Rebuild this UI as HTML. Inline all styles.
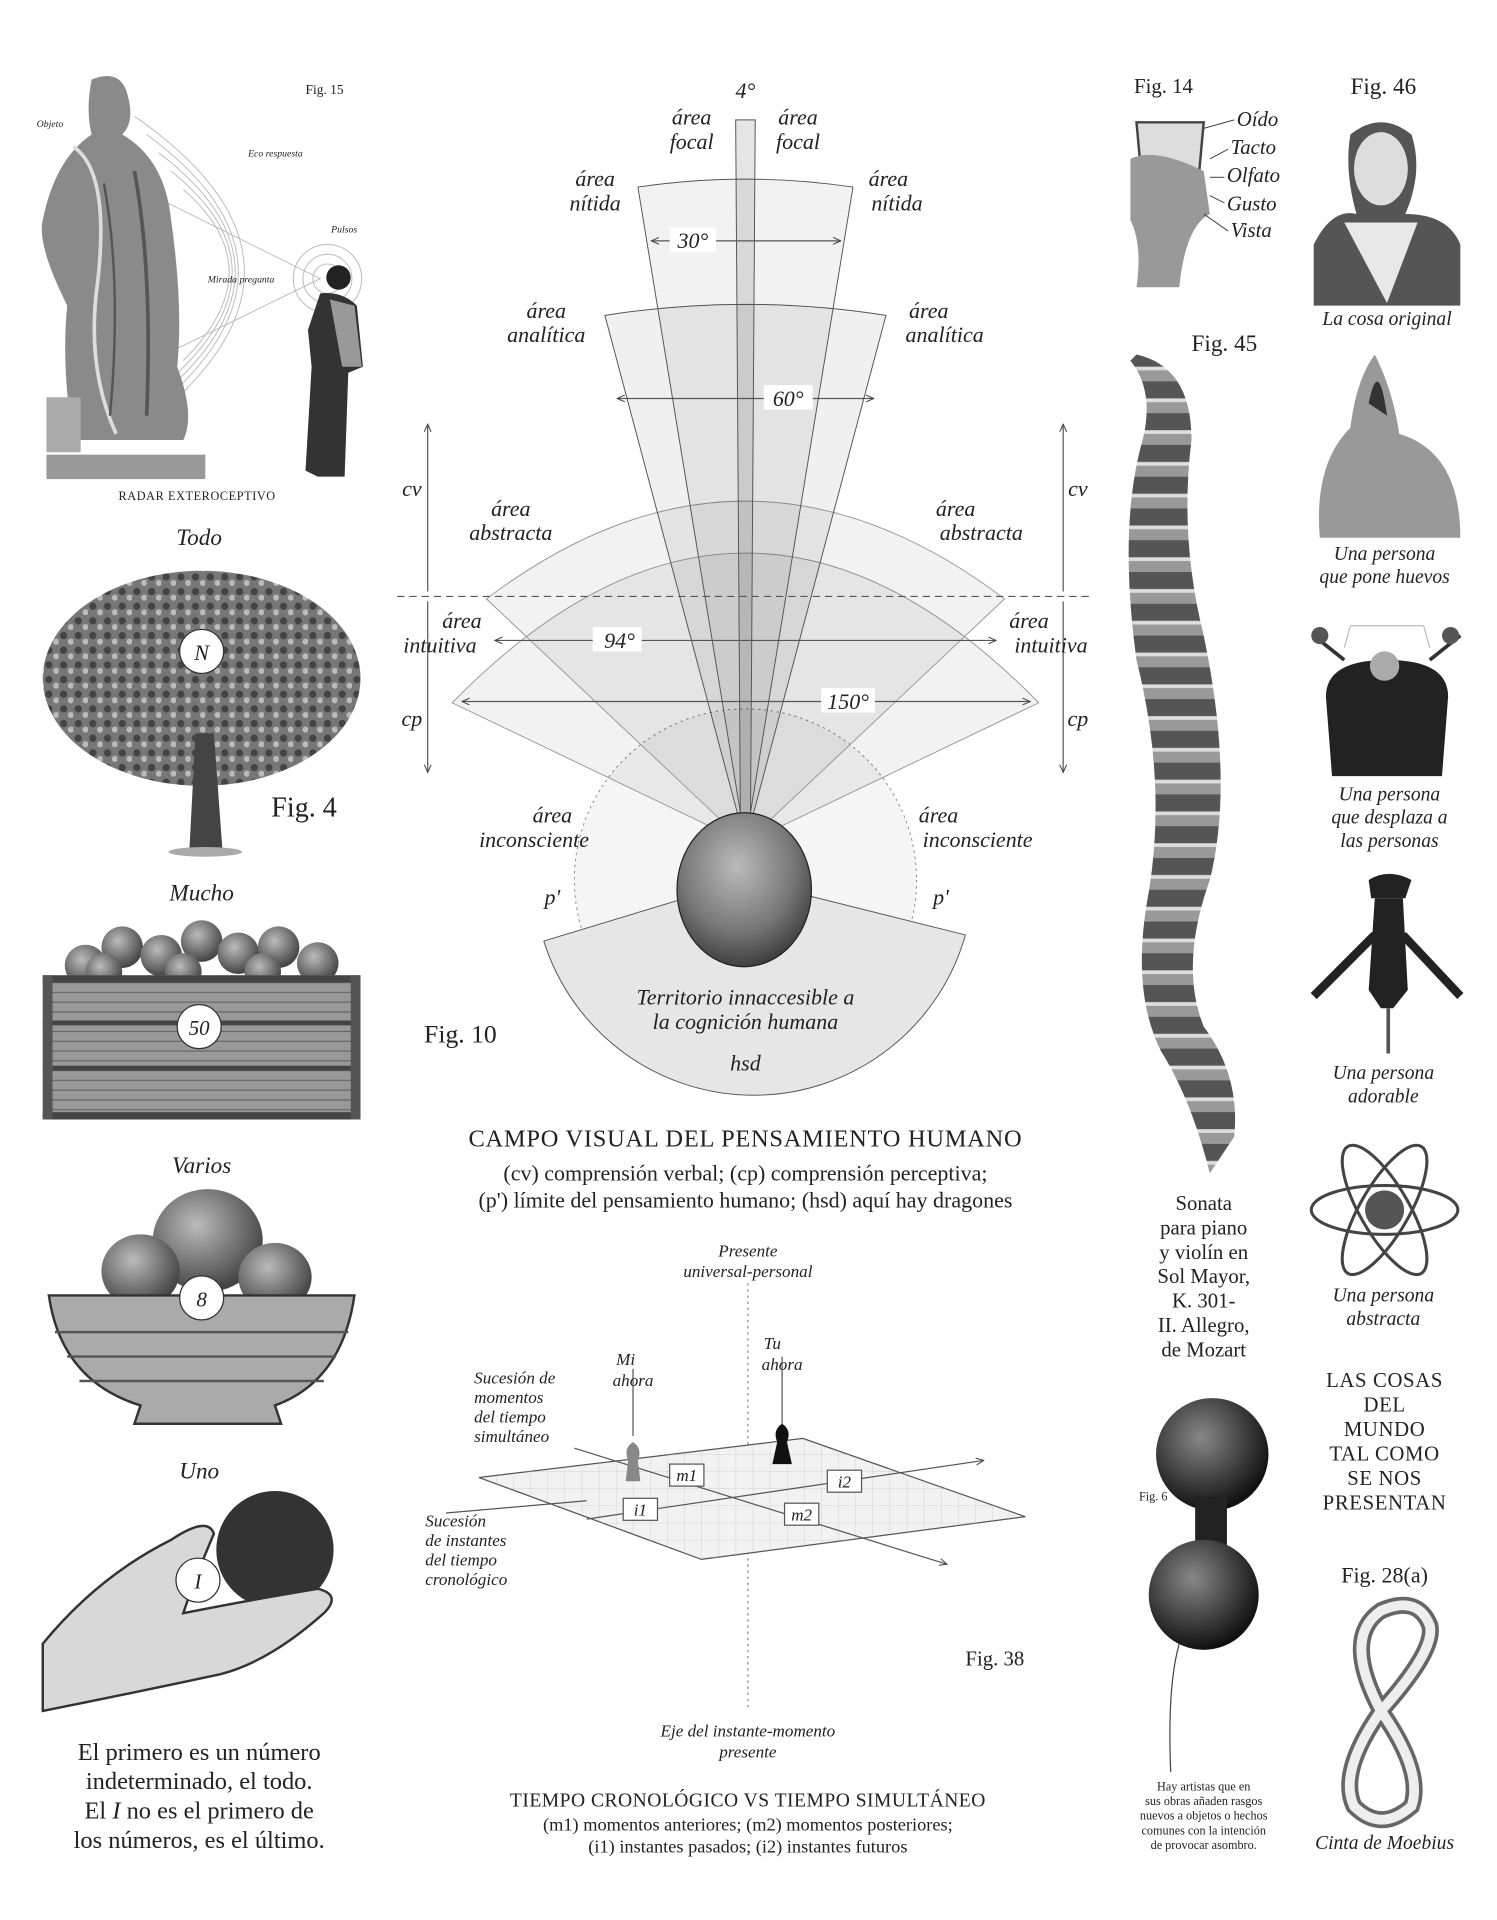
<!DOCTYPE html>
<html><head><meta charset="utf-8"><style>
html,body{margin:0;padding:0;background:#fff}
svg{display:block}
text{font-family:"Liberation Serif",serif;fill:#222}
.i{font-style:italic}
</style></head><body>
<svg width="1497" height="1920" viewBox="0 0 1225 1571" xmlns="http://www.w3.org/2000/svg">
<defs>
<marker id="ar" viewBox="0 0 10 10" refX="9" refY="5" markerWidth="7" markerHeight="7" orient="auto-start-reverse"><path d="M0,1 L9,5 L0,9" fill="none" stroke="#444" stroke-width="1.2"/></marker>
<radialGradient id="hd" cx="45%" cy="35%" r="70%"><stop offset="0" stop-color="#bbb"/><stop offset="0.6" stop-color="#777"/><stop offset="1" stop-color="#333"/></radialGradient>
<radialGradient id="ball" cx="40%" cy="35%" r="65%"><stop offset="0" stop-color="#888"/><stop offset="1" stop-color="#111"/></radialGradient>
<radialGradient id="apl" cx="40%" cy="35%" r="65%"><stop offset="0" stop-color="#bbb"/><stop offset="1" stop-color="#444"/></radialGradient>
<pattern id="gr" width="14" height="14" patternUnits="userSpaceOnUse"><path d="M0,0 H14 M0,0 V14" stroke="#bbb" stroke-width="0.6"/></pattern>
<pattern id="lv" width="12" height="12" patternUnits="userSpaceOnUse"><rect width="12" height="12" fill="#777"/><circle cx="4" cy="4" r="3" fill="#444"/><circle cx="10" cy="9" r="2.5" fill="#bbb"/></pattern>
<pattern id="vt" width="40" height="26" patternUnits="userSpaceOnUse"><rect width="40" height="26" fill="#999"/><rect y="0" width="40" height="14" fill="#555"/><rect y="14" width="40" height="3" fill="#ddd"/></pattern>
<pattern id="wd" width="8" height="8" patternUnits="userSpaceOnUse"><rect width="8" height="8" fill="#999"/><path d="M0,4 H8" stroke="#666" stroke-width="1"/></pattern>
</defs>

<!-- ===== FIG 15 ===== -->
<text x="250" y="77" font-size="11">Fig. 15</text>
<g fill="none" stroke="#bbb" stroke-width="0.8">
<path d="M110,95 Q290,220 110,355"/><path d="M120,110 Q270,220 120,340"/><path d="M130,125 Q255,220 130,325"/><path d="M140,140 Q240,220 140,310"/><path d="M150,155 Q225,220 150,295"/>
<circle cx="268" cy="228" r="12"/><circle cx="268" cy="228" r="20"/><circle cx="268" cy="228" r="28"/>
<path d="M135,165 L262,228 L135,290"/>
</g>
<path d="M75,65 Q100,55 105,80 Q110,100 100,110 Q135,130 140,180 Q150,250 145,300 Q160,340 150,360 L60,360 Q50,300 55,250 Q30,200 35,180 Q45,130 75,110 Q70,90 75,65 Z" fill="#8a8a8a"/>
<path d="M60,120 Q90,140 80,230 Q70,300 95,355" stroke="#ddd" stroke-width="3" fill="none"/>
<path d="M110,140 Q125,220 120,340" stroke="#555" stroke-width="3" fill="none"/>
<path d="M85,150 Q100,230 90,340" stroke="#555" stroke-width="2" fill="none"/>
<rect x="38" y="325" width="28" height="45" fill="#aaa"/>
<rect x="38" y="372" width="130" height="20" fill="#999"/>
<circle cx="277" cy="227" r="10" fill="#222"/>
<path d="M262,240 Q280,238 292,250 L297,300 L285,305 L282,390 L268,390 L260,390 L250,385 L255,300 L252,270 Z" fill="#333"/>
<path d="M270,245 L290,250 L296,300 L280,300 Z" fill="#999"/>
<text x="30" y="104" font-size="8" class="i" fill="#555">Objeto</text>
<text x="203" y="128" font-size="8" class="i" fill="#555">Eco respuesta</text>
<text x="271" y="190" font-size="8" class="i" fill="#555">Pulsos</text>
<text x="170" y="231" font-size="8" class="i" fill="#555">Mirada pregunta</text>
<text x="97" y="409" font-size="10" letter-spacing="0.5">RADAR EXTEROCEPTIVO</text>

<!-- ===== LEFT COLUMN ===== -->
<text x="163" y="446" font-size="19" class="i" text-anchor="middle">Todo</text>
<ellipse cx="165" cy="555" rx="130" ry="88" fill="url(#lv)"/>
<path d="M160,600 L155,695 L182,695 L175,600 Z" fill="#444"/>
<ellipse cx="168" cy="697" rx="30" ry="4" fill="#aaa"/>
<circle cx="165" cy="533" r="18" fill="#fff" stroke="#333"/>
<text x="165" y="540" font-size="18" class="i" text-anchor="middle">N</text>
<text x="222" y="668" font-size="23">Fig. 4</text>

<text x="165" y="737" font-size="19" class="i" text-anchor="middle">Mucho</text>
<g fill="url(#apl)">
<circle cx="70" cy="790" r="17"/><circle cx="100" cy="775" r="17"/><circle cx="132" cy="782" r="17"/><circle cx="165" cy="770" r="17"/><circle cx="195" cy="780" r="17"/><circle cx="228" cy="775" r="17"/><circle cx="260" cy="788" r="17"/><circle cx="85" cy="795" r="15"/><circle cx="150" cy="795" r="15"/><circle cx="215" cy="795" r="15"/></g>
<rect x="35" y="798" width="260" height="118" fill="url(#wd)"/>
<rect x="35" y="798" width="260" height="6" fill="#444"/>
<rect x="35" y="835" width="260" height="4" fill="#444"/>
<rect x="35" y="872" width="260" height="4" fill="#444"/>
<rect x="35" y="910" width="260" height="6" fill="#444"/>
<rect x="35" y="798" width="8" height="118" fill="#555"/><rect x="287" y="798" width="8" height="118" fill="#555"/>
<circle cx="163" cy="840" r="18" fill="#fff" stroke="#333"/>
<text x="163" y="847" font-size="17" class="i" text-anchor="middle">50</text>

<text x="165" y="960" font-size="19" class="i" text-anchor="middle">Varios</text>
<ellipse cx="170" cy="1015" rx="45" ry="42" fill="url(#apl)"/>
<ellipse cx="115" cy="1040" rx="32" ry="30" fill="url(#apl)"/>
<ellipse cx="225" cy="1045" rx="30" ry="28" fill="url(#apl)"/>
<path d="M40,1060 L290,1060 Q280,1130 225,1150 L230,1165 L110,1165 L115,1150 Q50,1130 40,1060 Z" fill="#aaa" stroke="#333" stroke-width="2"/>
<g stroke="#555" stroke-width="2"><path d="M45,1090 L285,1090"/><path d="M55,1110 L275,1110"/><path d="M65,1130 L265,1130"/></g>
<circle cx="165" cy="1062" r="18" fill="#fff" stroke="#333"/>
<text x="165" y="1069" font-size="17" class="i" text-anchor="middle">8</text>

<text x="163" y="1210" font-size="19" class="i" text-anchor="middle">Uno</text>
<circle cx="225" cy="1268" r="48" fill="#333"/>
<path d="M35,1345 Q80,1290 140,1260 Q170,1240 175,1255 Q160,1290 150,1320 Q200,1310 260,1300 Q280,1305 265,1320 Q220,1360 180,1370 Q110,1385 35,1400 Z" fill="#d8d8d8" stroke="#333" stroke-width="2"/>
<circle cx="162" cy="1293" r="18" fill="#fff" stroke="#333"/>
<text x="162" y="1300" font-size="17" class="i" text-anchor="middle">I</text>
<g font-size="20" text-anchor="middle">
<text x="163" y="1440">El primero es un número</text>
<text x="163" y="1464">indeterminado, el todo.</text>
<text x="163" y="1488">El <tspan class="i">I</tspan> no es el primero de</text>
<text x="163" y="1512">los números, es el último.</text>
</g>

<!-- ===== FIG 10 ===== -->
<g stroke="#555" stroke-width="0.8">
<circle cx="610" cy="720" r="140" fill="#f5f5f5" stroke-dasharray="2,3" stroke="#888"/>
<path d="M610,720 L445,770 A180,180 0 0 0 790,765 Z" fill="#e6e6e6"/>
<path d="M610,690 L370,575 Q610,330 850,575 Z" fill="rgba(0,0,0,0.05)" stroke="#999"/>
<path d="M610,690 L398,490 Q610,330 822,490 Z" fill="rgba(0,0,0,0.05)" stroke="#999"/>
<path d="M610,690 L495,258 Q610,240 725,258 Z" fill="rgba(0,0,0,0.06)"/>
<path d="M610,690 L522,153 Q610,140 698,153 Z" fill="rgba(0,0,0,0.05)"/>
<path d="M606,690 L602,98 L618,98 L614,690 Z" fill="rgba(0,0,0,0.1)"/>
</g>
<ellipse cx="609" cy="728" rx="55" ry="63" fill="url(#hd)" stroke="#222"/>
<line x1="325" y1="488" x2="895" y2="488" stroke="#555" stroke-dasharray="6,4"/>
<line x1="350" y1="484" x2="350" y2="347" stroke="#555" marker-end="url(#ar)"/>
<line x1="350" y1="492" x2="350" y2="632" stroke="#555" marker-end="url(#ar)"/>
<line x1="870" y1="484" x2="870" y2="347" stroke="#555" marker-end="url(#ar)"/>
<line x1="870" y1="492" x2="870" y2="632" stroke="#555" marker-end="url(#ar)"/>
<line x1="533" y1="197" x2="688" y2="197" stroke="#555" marker-start="url(#ar)" marker-end="url(#ar)"/>
<line x1="505" y1="326" x2="715" y2="326" stroke="#555" marker-start="url(#ar)" marker-end="url(#ar)"/>
<line x1="405" y1="524" x2="815" y2="524" stroke="#555" marker-start="url(#ar)" marker-end="url(#ar)"/>
<line x1="378" y1="574" x2="843" y2="574" stroke="#555" marker-start="url(#ar)" marker-end="url(#ar)"/>
<g class="i" font-size="18" text-anchor="middle">
<rect x="548" y="186" width="38" height="20" fill="#fff"/><text x="567" y="203">30°</text>
<rect x="625" y="315" width="40" height="20" fill="#fff"/><text x="645" y="332">60°</text>
<rect x="485" y="513" width="40" height="20" fill="#fff"/><text x="507" y="530">94°</text>
<rect x="672" y="563" width="44" height="20" fill="#fff"/><text x="694" y="580">150°</text>
<text x="610" y="80">4°</text>
<text x="566" y="102">área</text><text x="566" y="122">focal</text>
<text x="653" y="102">área</text><text x="653" y="122">focal</text>
<text x="487" y="152">área</text><text x="487" y="172">nítida</text>
<text x="727" y="152">área</text><text x="734" y="172">nítida</text>
<text x="447" y="260">área</text><text x="447" y="280">analítica</text>
<text x="760" y="260">área</text><text x="773" y="280">analítica</text>
<text x="418" y="422">área</text><text x="418" y="442">abstracta</text>
<text x="782" y="422">área</text><text x="803" y="442">abstracta</text>
<text x="378" y="514">área</text><text x="360" y="534">intuitiva</text>
<text x="842" y="514">área</text><text x="860" y="534">intuitiva</text>
<text x="452" y="673">área</text><text x="437" y="693">inconsciente</text>
<text x="768" y="673">área</text><text x="800" y="693">inconsciente</text>
<text x="452" y="740">p'</text><text x="770" y="740">p'</text>
<text x="337" y="406">cv</text><text x="882" y="406">cv</text>
<text x="337" y="594">cp</text><text x="882" y="594">cp</text>
<text x="610" y="822">Territorio innaccesible a</text>
<text x="610" y="842">la cognición humana</text>
<text x="610" y="876">hsd</text>
</g>
<text x="347" y="853" font-size="21">Fig. 10</text>
<g text-anchor="middle">
<text x="610" y="938" font-size="20" letter-spacing="0.6">CAMPO VISUAL DEL PENSAMIENTO HUMANO</text>
<text x="610" y="966" font-size="18">(cv) comprensión verbal; (cp) comprensión perceptiva;</text>
<text x="610" y="988" font-size="18">(p') límite del pensamiento humano; (hsd) aquí hay dragones</text>
</g>

<!-- ===== FIG 38 ===== -->
<line x1="612" y1="1050" x2="612" y2="1400" stroke="#888" stroke-dasharray="2,3"/>
<path d="M392,1209 L657,1177 L839,1241 L574,1276 Z" fill="#f2f2f2" stroke="#555"/>
<path d="M392,1209 L657,1177 L839,1241 L574,1276 Z" fill="url(#gr)" opacity="0.8"/>
<line x1="470" y1="1185" x2="775" y2="1280" stroke="#555" marker-end="url(#ar)"/>
<line x1="480" y1="1243" x2="805" y2="1195" stroke="#555" marker-end="url(#ar)"/>
<line x1="365" y1="1238" x2="480" y2="1228" stroke="#555"/>
<line x1="518" y1="1175" x2="518" y2="1120" stroke="#555"/>
<line x1="640" y1="1165" x2="640" y2="1110" stroke="#555"/>
<path d="M512,1212 L514,1195 Q510,1185 518,1180 Q526,1185 522,1195 L524,1212 Z" fill="#888"/>
<path d="M632,1198 L636,1180 Q632,1170 640,1165 Q648,1170 644,1180 L648,1198 Z" fill="#111"/>
<g class="i" font-size="14" text-anchor="middle">
<rect x="548" y="1198" width="28" height="18" fill="#fff" stroke="#555"/><text x="562" y="1212">m1</text>
<rect x="677" y="1203" width="28" height="18" fill="#fff" stroke="#555"/><text x="691" y="1217">i2</text>
<rect x="510" y="1226" width="28" height="18" fill="#fff" stroke="#555"/><text x="524" y="1240">i1</text>
<rect x="642" y="1230" width="28" height="18" fill="#fff" stroke="#555"/><text x="656" y="1244">m2</text>
<text x="612" y="1028">Presente</text><text x="612" y="1045">universal-personal</text>
<text x="512" y="1117">Mi</text><text x="518" y="1134">ahora</text>
<text x="632" y="1104">Tu</text><text x="640" y="1121">ahora</text>
<text x="612" y="1421">Eje del instante-momento</text><text x="612" y="1438">presente</text>
</g>
<g class="i" font-size="14" text-anchor="start">
<text x="388" y="1132">Sucesión de</text><text x="388" y="1148">momentos</text><text x="388" y="1164">del tiempo</text><text x="388" y="1180">simultáneo</text>
<text x="348" y="1249">Sucesión</text><text x="348" y="1265">de instantes</text><text x="348" y="1281">del tiempo</text><text x="348" y="1297">cronológico</text>
</g>
<text x="790" y="1363" font-size="17">Fig. 38</text>
<g text-anchor="middle">
<text x="612" y="1478" font-size="16" letter-spacing="0.4">TIEMPO CRONOLÓGICO VS TIEMPO SIMULTÁNEO</text>
<text x="612" y="1498" font-size="15">(m1) momentos anteriores; (m2) momentos posteriores;</text>
<text x="612" y="1516" font-size="15">(i1) instantes pasados; (i2) instantes futuros</text>
</g>

<!-- ===== RIGHT COLUMN 1 ===== -->
<text x="928" y="76" font-size="17">Fig. 14</text>
<path d="M930,100 L985,100 L980,155 L935,155 Z" fill="#ddd" stroke="#444" stroke-width="2"/>
<path d="M925,130 Q945,120 985,140 L990,175 Q970,185 965,235 L930,235 Q935,200 925,180 Z" fill="#999"/>
<g stroke="#444" stroke-width="0.8"><line x1="985" y1="105" x2="1010" y2="98"/><line x1="990" y1="130" x2="1005" y2="122"/><line x1="990" y1="145" x2="1002" y2="145"/><line x1="990" y1="160" x2="1002" y2="166"/><line x1="985" y1="175" x2="1005" y2="189"/></g>
<g class="i" font-size="17"><text x="1012" y="103">Oído</text><text x="1007" y="126">Tacto</text><text x="1004" y="149">Olfato</text><text x="1004" y="172">Gusto</text><text x="1007" y="194">Vista</text></g>

<text x="975" y="287" font-size="19">Fig. 45</text>
<path d="M930,290 Q975,300 975,360 Q965,440 985,520 Q1010,640 990,720 Q965,790 985,840 Q1015,880 1010,930 L990,960 Q975,900 950,860 Q925,810 940,730 Q955,640 930,540 Q915,430 935,360 Q945,320 925,295 Z" fill="url(#vt)"/>
<g font-size="17" text-anchor="middle">
<text x="985" y="990">Sonata</text><text x="985" y="1010">para piano</text><text x="985" y="1030">y violín en</text><text x="985" y="1050">Sol Mayor,</text><text x="985" y="1070">K. 301-</text><text x="985" y="1090">II. Allegro,</text><text x="985" y="1110">de Mozart</text>
</g>
<text x="932" y="1228" font-size="10">Fig. 6</text>
<circle cx="992" cy="1190" r="46" fill="url(#ball)"/>
<rect x="978" y="1225" width="26" height="50" fill="#222"/>
<circle cx="985" cy="1305" r="45" fill="url(#ball)"/>
<path d="M965,1345 Q955,1380 958,1450" stroke="#444" fill="none"/>
<g font-size="10" text-anchor="middle">
<text x="985" y="1465">Hay artistas que en</text><text x="985" y="1477">sus obras añaden rasgos</text><text x="985" y="1489">nuevos a objetos o hechos</text><text x="985" y="1501">comunes con la intención</text><text x="985" y="1513">de provocar asombro.</text>
</g>

<!-- ===== RIGHT COLUMN 2 ===== -->
<text x="1132" y="77" font-size="19" text-anchor="middle">Fig. 46</text>
<path d="M1075,250 L1075,200 Q1090,170 1110,175 Q1100,140 1105,110 Q1130,90 1155,110 Q1165,140 1150,175 Q1185,175 1195,200 L1195,250 Z" fill="#555"/>
<ellipse cx="1130" cy="138" rx="22" ry="30" fill="#ddd"/>
<path d="M1100,182 L1160,182 L1135,248 Z" fill="#e8e8e8"/>
<text x="1135" y="266" font-size="16" class="i" text-anchor="middle">La cosa original</text>
<path d="M1080,440 Q1075,380 1105,350 Q1110,310 1125,290 Q1140,320 1145,355 Q1195,370 1195,440 Z" fill="#999"/>
<path d="M1120,330 Q1128,290 1135,340 Z" fill="#333"/>
<g class="i" font-size="16" text-anchor="middle"><text x="1133" y="458">Una persona</text><text x="1133" y="477">que pone huevos</text></g>
<path d="M1085,570 Q1085,540 1135,540 Q1185,540 1185,570 L1180,635 L1090,635 Z" fill="#222"/>
<circle cx="1133" cy="545" r="12" fill="#aaa"/>
<path d="M1075,520 L1100,540 M1195,520 L1170,540" stroke="#333" stroke-width="3"/>
<circle cx="1080" cy="520" r="7" fill="#555"/><circle cx="1187" cy="520" r="7" fill="#555"/>
<path d="M1100,530 L1105,512 L1165,512 L1170,530" fill="none" stroke="#bbb"/>
<g class="i" font-size="16" text-anchor="middle"><text x="1137" y="655">Una persona</text><text x="1137" y="674">que desplaza a</text><text x="1137" y="693">las personas</text></g>
<path d="M1120,720 Q1136,710 1155,720 L1150,735 L1122,735 Z" fill="#222"/>
<path d="M1125,735 L1148,735 L1152,810 L1140,825 L1130,825 L1120,810 Z" fill="#222"/>
<path d="M1125,765 L1075,815 M1148,765 L1195,815" stroke="#222" stroke-width="7"/>
<line x1="1136" y1="825" x2="1136" y2="862" stroke="#555" stroke-width="3"/>
<g class="i" font-size="16" text-anchor="middle"><text x="1132" y="883">Una persona</text><text x="1132" y="902">adorable</text></g>
<g fill="none" stroke="#444" stroke-width="2.5">
<ellipse cx="1133" cy="990" rx="60" ry="20"/>
<ellipse cx="1133" cy="990" rx="60" ry="20" transform="rotate(60 1133 990)"/>
<ellipse cx="1133" cy="990" rx="60" ry="20" transform="rotate(-60 1133 990)"/>
</g>
<circle cx="1133" cy="990" r="16" fill="#555"/>
<g class="i" font-size="16" text-anchor="middle"><text x="1132" y="1065">Una persona</text><text x="1132" y="1084">abstracta</text></g>
<g font-size="17" text-anchor="middle" letter-spacing="0.5">
<text x="1133" y="1135">LAS COSAS</text><text x="1133" y="1155">DEL</text><text x="1133" y="1175">MUNDO</text><text x="1133" y="1195">TAL COMO</text><text x="1133" y="1215">SE NOS</text><text x="1133" y="1235">PRESENTAN</text>
</g>
<text x="1133" y="1295" font-size="18" text-anchor="middle">Fig. 28(a)</text>
<path d="M1130,1400 Q1175,1350 1170,1330 Q1160,1305 1130,1318 Q1098,1340 1130,1400 Q1165,1450 1155,1478 Q1130,1500 1108,1478 Q1095,1450 1130,1400 Z" fill="none" stroke="#666" stroke-width="14"/>
<path d="M1130,1400 Q1175,1350 1170,1330 Q1160,1305 1130,1318 Q1098,1340 1130,1400 Q1165,1450 1155,1478 Q1130,1500 1108,1478 Q1095,1450 1130,1400 Z" fill="none" stroke="#eee" stroke-width="8"/>
<text x="1133" y="1513" font-size="16" class="i" text-anchor="middle">Cinta de Moebius</text>
</svg>
</body></html>
